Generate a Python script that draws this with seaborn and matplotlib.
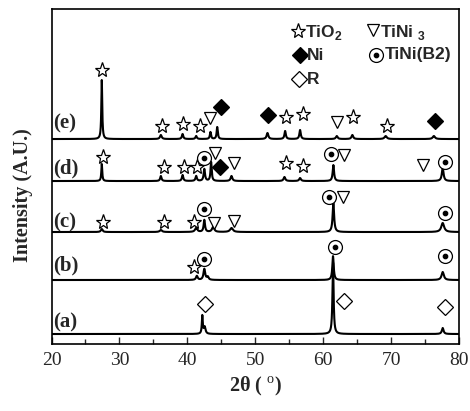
import numpy as np
import pandas as pd
import matplotlib
matplotlib.use("Agg")
import matplotlib.pyplot as plt
import seaborn as sns

# ---- diffraction data -------------------------------------------------------
patterns = ["(a)", "(b)", "(c)", "(d)", "(e)"]
offsets = [10, 64, 112, 163, 205]

# peak list for every pattern: 2θ position, height, half width
peaks_a_pos = [42.2, 42.55, 61.45, 77.6]
peaks_a_h = [18, 7, 72, 6]
peaks_a_w = [0.08, 0.15, 0.1, 0.15]

peaks_b_pos = [41.4, 42.5, 43.0, 61.45, 77.6]
peaks_b_h = [4, 11, 3, 24, 8]
peaks_b_w = [0.15, 0.15, 0.15, 0.12, 0.2]

peaks_c_pos = [27.4, 36.1, 41.3, 42.5, 43.8, 46.5, 61.5, 77.6]
peaks_c_h = [3, 2, 4, 12, 5, 4, 29, 9]
peaks_c_w = [0.15, 0.2, 0.2, 0.12, 0.2, 0.25, 0.13, 0.25]

peaks_d_pos = [27.4, 36.1, 39.3, 41.3, 42.5, 43.5, 46.5, 54.3, 56.6, 61.5, 77.6]
peaks_d_h = [17, 5, 6, 5, 12, 19, 5, 4, 3, 16, 13]
peaks_d_w = [0.08, 0.12, 0.12, 0.12, 0.12, 0.1, 0.15, 0.15, 0.15, 0.12, 0.15]

peaks_e_pos = [27.4, 36.1, 39.3, 41.3, 43.4, 44.4, 51.8, 54.4, 56.6, 62.0, 64.3, 69.2, 76.3]
peaks_e_h = [59, 4, 5, 3, 7, 12, 6, 8, 9, 3, 4, 3, 3]
peaks_e_w = [0.08, 0.15, 0.12, 0.12, 0.1, 0.1, 0.15, 0.12, 0.12, 0.15, 0.15, 0.2, 0.2]

peak_lists = [
    (peaks_a_pos, peaks_a_h, peaks_a_w),
    (peaks_b_pos, peaks_b_h, peaks_b_w),
    (peaks_c_pos, peaks_c_h, peaks_c_w),
    (peaks_d_pos, peaks_d_h, peaks_d_w),
    (peaks_e_pos, peaks_e_h, peaks_e_w),
]

# phase identification marks: (2θ, height)
tio2_marks = [(27.4, 274), (36.3, 218), (39.3, 220), (41.9, 218), (54.5, 227),
              (57.0, 230), (64.4, 227), (69.4, 218),
              (27.6, 187), (36.5, 177), (39.5, 177), (41.4, 177), (54.5, 181), (57.0, 178),
              (27.6, 122), (36.5, 122), (41.0, 122),
              (41.0, 77)]
tini3_marks = [(43.3, 226), (62.0, 222),
               (44.1, 191), (46.8, 181), (63.0, 189), (74.7, 179),
               (43.9, 121), (46.8, 123), (62.9, 147)]
ni_marks = [(44.9, 237), (51.9, 229), (76.5, 223), (44.8, 177)]
b2_marks = [(42.5, 186), (61.1, 190), (77.95, 182),
            (42.5, 135), (60.8, 147), (77.95, 131),
            (42.5, 85), (61.75, 97), (77.95, 88)]
r_marks = [(42.6, 40), (63.1, 43), (77.95, 37)]

label_heights = [22, 79, 122, 176, 221]

# ---- build profiles -----------------------------------------------------------
two_theta = np.arange(20.0, 80.0001, 0.02)
frames = []
for name, off, (pos, h, w) in zip(patterns, offsets, peak_lists):
    y = np.full_like(two_theta, float(off))
    for p0, h0, w0 in zip(pos, h, w):
        y += h0 / (1.0 + ((two_theta - p0) / w0) ** 2)
    frames.append(pd.DataFrame({"two_theta": two_theta, "intensity": y, "pattern": name}))
df = pd.concat(frames, ignore_index=True)

# ---- figure -------------------------------------------------------------------
sns.set_theme(style="ticks")
plt.rcParams["font.family"] = ["Liberation Serif", "DejaVu Serif"]
plt.rcParams["mathtext.fontset"] = "custom"
plt.rcParams["mathtext.rm"] = "Liberation Serif"
plt.rcParams["mathtext.bf"] = "Liberation Sans:bold"

fig = plt.figure(figsize=(4.7, 4.11), dpi=100)
ax = fig.add_axes([0.1096, 0.163, 0.8670, 0.815])

for name in patterns:
    sub = df[df["pattern"] == name]
    sns.lineplot(data=sub, x="two_theta", y="intensity", ax=ax, color="black",
                 linewidth=1.5, estimator=None, sort=False, legend=False)

mk = dict(linestyle="none", markeredgecolor="black", markeredgewidth=0.9, zorder=5)


def place(marks, **kw):
    xs = [m[0] for m in marks]
    ys = [m[1] for m in marks]
    ax.plot(xs, ys, **kw)


place(tio2_marks, marker="*", markersize=11, markerfacecolor="white", **mk)
place(tini3_marks, marker="v", markersize=9, markerfacecolor="white", **mk)
place(ni_marks, marker="D", markersize=8, markerfacecolor="black", **mk)
place(r_marks, marker="D", markersize=8, markerfacecolor="white", **mk)
place(b2_marks, marker="o", markersize=10, markerfacecolor="white", **mk)
place(b2_marks, marker="o", markersize=3.2, markerfacecolor="black", **mk)

for name, yl in zip(patterns, label_heights):
    ax.text(20.3, yl, name, ha="left", va="center", fontsize=15, fontweight="bold")

# legend drawn as symbols and labels in figure pixels
W, H = 470, 411
def fx(px):
    return px / W
def fy(py):
    return 1 - py / H

lk = dict(linestyle="none", markeredgecolor="black", markeredgewidth=0.9,
          transform=fig.transFigure, clip_on=False)
sans = dict(family=["Liberation Sans", "DejaVu Sans"], fontweight="bold", fontsize=12.5,
            va="center", ha="left")
ax.plot([fx(298)], [fy(31)], marker="*", markersize=11, markerfacecolor="white", **lk)
fig.text(fx(305), fy(32), "TiO$_{\\mathbf{2}}$", **sans)
ax.plot([fx(373)], [fy(30)], marker="v", markersize=9, markerfacecolor="white", **lk)
fig.text(fx(380), fy(32), "TiNi $_{\\mathbf{3}}$", **sans)
ax.plot([fx(300)], [fy(55)], marker="D", markersize=8, markerfacecolor="black", **lk)
fig.text(fx(307), fy(55), "Ni", **sans)
ax.plot([fx(376)], [fy(55)], marker="o", markersize=10, markerfacecolor="white", **lk)
ax.plot([fx(376)], [fy(55)], marker="o", markersize=3.2, markerfacecolor="black", **lk)
fig.text(fx(385), fy(55), "TiNi(B2)", **sans)
ax.plot([fx(299)], [fy(79)], marker="D", markersize=8, markerfacecolor="white", **lk)
fig.text(fx(307), fy(79), "R", **sans)

# axes styling
ax.set_xlim(20, 80)
ax.set_ylim(0, 335)
ax.set_xticks(np.arange(20, 81, 10))
ax.set_xticks(np.arange(25, 80, 10), minor=True)
ax.set_yticks([])
ax.tick_params(axis="x", which="major", direction="in", length=5, width=1.0,
               labelsize=14, pad=6)
ax.tick_params(axis="x", which="minor", direction="in", length=3.5, width=1.0)
for s in ax.spines.values():
    s.set_linewidth(1.2)
    s.set_color("black")

ax.set_xlabel("2θ ( $^{\\mathrm{o}}$)", fontsize=14.5, fontweight="bold", labelpad=4)
ax.set_ylabel("Intensity (A.U.)", fontsize=14.5, fontweight="bold")
ax.yaxis.set_label_coords(-0.045, 0.445)

fig.savefig("out.png", dpi=100)
